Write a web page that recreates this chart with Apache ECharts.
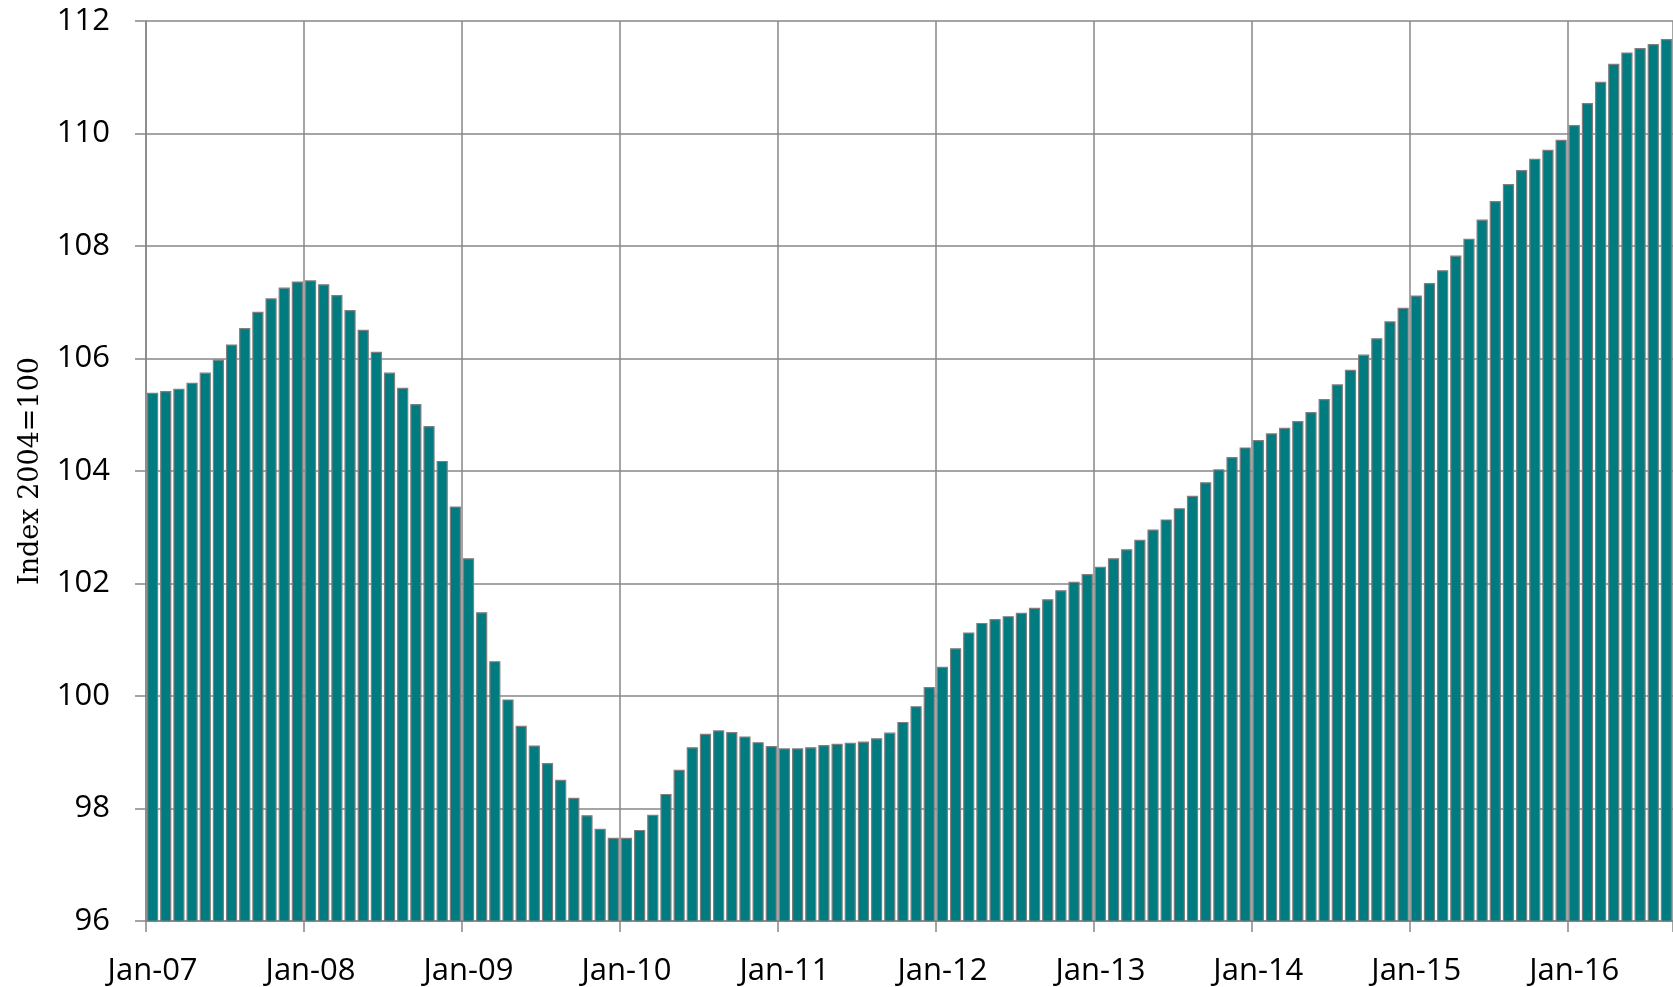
<!DOCTYPE html>
<html>
<head>
<meta charset="utf-8">
<title>Index 2004=100</title>
<script src="https://cdn.jsdelivr.net/npm/echarts@6/dist/echarts.min.js"></script>
<style>
  html, body { margin: 0; padding: 0; background: #fff; }
  #chart { width: 1673px; height: 987px; }
</style>
</head>
<body>
<div id="chart"></div>
<script>
// monthly index values, Jan..Dec
const months = ['Jan', 'Feb', 'Mar', 'Apr', 'May', 'Jun', 'Jul', 'Aug', 'Sep', 'Oct', 'Nov', 'Dec']
const years = ['07', '08', '09', '10', '11', '12', '13', '14', '15', '16']

const v2007 = [105.39, 105.42, 105.46, 105.57, 105.75, 105.98, 106.25, 106.54, 106.83, 107.07, 107.26, 107.37]
const v2008 = [107.39, 107.32, 107.13, 106.86, 106.51, 106.12, 105.75, 105.48, 105.19, 104.80, 104.18, 103.37]
const v2009 = [102.45, 101.49, 100.62, 99.94, 99.47, 99.12, 98.81, 98.51, 98.19, 97.88, 97.64, 97.48]
const v2010 = [97.48, 97.62, 97.89, 98.26, 98.69, 99.09, 99.33, 99.39, 99.36, 99.28, 99.18, 99.11]
const v2011 = [99.07, 99.07, 99.09, 99.13, 99.15, 99.17, 99.19, 99.25, 99.35, 99.54, 99.82, 100.16]
const v2012 = [100.52, 100.85, 101.13, 101.30, 101.37, 101.42, 101.48, 101.57, 101.72, 101.88, 102.03, 102.17]
const v2013 = [102.30, 102.45, 102.61, 102.78, 102.96, 103.14, 103.34, 103.56, 103.80, 104.03, 104.25, 104.42]
const v2014 = [104.55, 104.67, 104.77, 104.89, 105.05, 105.28, 105.54, 105.80, 106.07, 106.36, 106.66, 106.90]
const v2015 = [107.12, 107.34, 107.57, 107.83, 108.13, 108.47, 108.80, 109.10, 109.35, 109.55, 109.71, 109.89]
const v2016 = [110.15, 110.54, 110.92, 111.24, 111.44, 111.52, 111.59, 111.68]

const values = [].concat(v2007, v2008, v2009, v2010, v2011, v2012, v2013, v2014, v2015, v2016)
const categories = []
years.forEach(y => {
  months.forEach(m => { categories.push(m + '-' + y) })
})
categories.length = values.length

const gridColor = '#878787'
const labelFont = { color: '#000', fontSize: 31, fontFamily: 'Open Sans' }

let myChart = echarts.init(document.getElementById('chart'))
myChart.setOption({
  animation: false,
  grid: {
    left: 146,
    right: -2,
    top: 21,
    bottom: 65
  },
  xAxis: {
    type: 'category',
    data: categories,
    boundaryGap: true,
    axisLine: { show: true, lineStyle: { color: gridColor, width: 1.5 } },
    axisTick: { show: true, interval: 11, length: 11, alignWithLabel: false, lineStyle: { color: gridColor, width: 1.5 } },
    axisLabel: Object.assign({ interval: 11, margin: 35 }, labelFont),
    splitLine: { show: true, interval: 11, lineStyle: { color: gridColor, width: 1.5 } }
  },
  yAxis: {
    type: 'value',
    min: 96,
    max: 112,
    interval: 2,
    name: 'Index 2004=100',
    nameLocation: 'middle',
    nameGap: 102,
    nameTextStyle: { color: '#000', fontSize: 27, fontFamily: 'DejaVu Serif' },
    axisLine: { show: true, lineStyle: { color: gridColor, width: 1.5 } },
    axisTick: { show: true, length: 11, lineStyle: { color: gridColor, width: 1.5 } },
    axisLabel: Object.assign({ margin: 36 }, labelFont),
    splitLine: { show: true, lineStyle: { color: gridColor, width: 1.5 } }
  },
  series: [
    {
      type: 'bar',
      data: values,
      barCategoryGap: '15%',
      itemStyle: {
        color: '#007b80',
        borderColor: '#7f7f7f',
        borderWidth: 1.2
      }
    }
  ]
})
</script>
</body>
</html>
